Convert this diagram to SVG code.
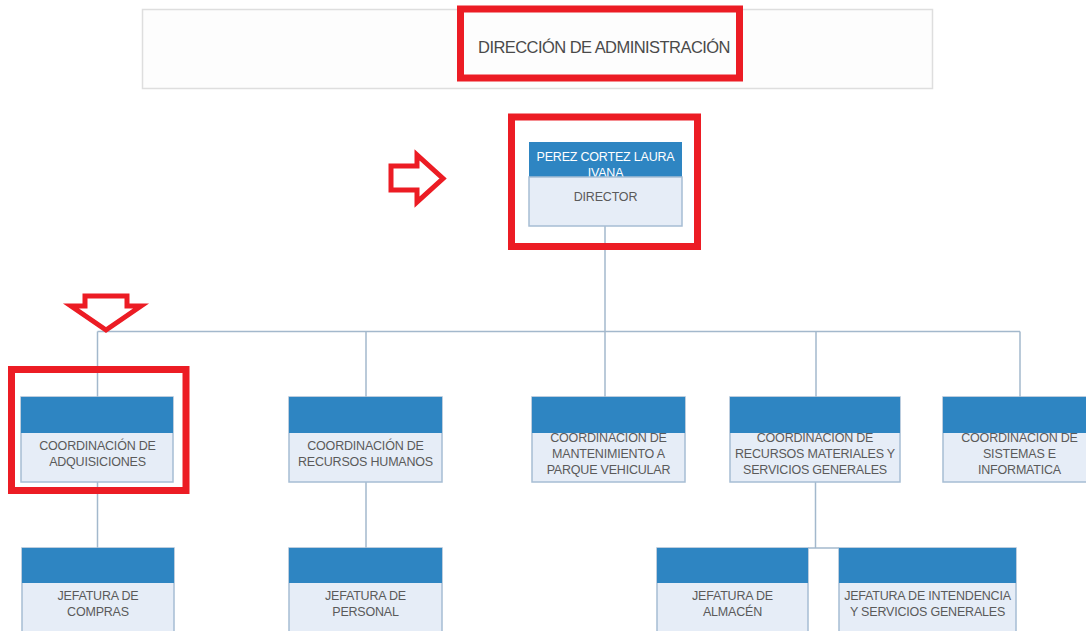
<svg xmlns="http://www.w3.org/2000/svg" width="1086" height="631" viewBox="0 0 1086 631">
<defs>
<style>
.hd{fill:#2e85c2;}
.bd{fill:#e6edf7;stroke:#a6bdd4;stroke-width:1.5;}
.t{font-family:"Liberation Sans",Arial,sans-serif;font-size:12.5px;fill:#5a5a5a;text-anchor:middle;letter-spacing:-0.2px;}
.tw{font-family:"Liberation Sans",Arial,sans-serif;font-size:12.5px;fill:#ffffff;text-anchor:middle;letter-spacing:-0.2px;}
.ln{stroke:#a3b8cc;stroke-width:1.5;fill:none;}
.red{fill:none;stroke:#ec1c24;stroke-width:7;}
.arr{fill:#ffffff;stroke:#ec1c24;stroke-width:5;stroke-linejoin:miter;}
</style>
</defs>
<rect width="1086" height="631" fill="#ffffff"/>

<g id="title">
<rect x="142.5" y="9.5" width="790" height="79" fill="#fdfdfd" stroke="#dedede" stroke-width="1.5"/>
<text x="604" y="53" font-family="'Liberation Sans',Arial,sans-serif" font-size="16.5" fill="#4a4a4a" text-anchor="middle" letter-spacing="-0.55">DIRECCIÓN DE ADMINISTRACIÓN</text>
</g>

<g id="connectors">
<line class="ln" x1="605" y1="226" x2="605" y2="397"/>
<line class="ln" x1="97.5" y1="331.5" x2="1020" y2="331.5"/>
<line class="ln" x1="97.5" y1="331.5" x2="97.5" y2="397"/>
<line class="ln" x1="366" y1="331.5" x2="366" y2="397"/>
<line class="ln" x1="816" y1="331.5" x2="816" y2="397"/>
<line class="ln" x1="1020" y1="331.5" x2="1020" y2="397"/>
<line class="ln" x1="97.5" y1="482" x2="97.5" y2="548"/>
<line class="ln" x1="366" y1="482" x2="366" y2="548"/>
<line class="ln" x1="815.5" y1="482" x2="815.5" y2="548"/>
<line class="ln" x1="808" y1="548" x2="839" y2="548"/>
</g>

<g id="director">
<rect class="hd" x="529" y="142" width="153" height="36"/>
<text class="tw" x="605.5" y="160.5">PEREZ CORTEZ LAURA</text>
<text class="tw" x="605.5" y="176.5">IVANA</text>
<rect class="bd" x="529" y="177" width="153" height="49"/>
<text class="t" x="605.5" y="201">DIRECTOR</text>
</g>

<g id="coord-adquisiciones">
<rect class="bd" x="21" y="397" width="152" height="85"/>
<text class="t" x="97.5" y="449.5">COORDINACIÓN DE</text>
<text class="t" x="97.5" y="465.5">ADQUISICIONES</text>
<rect class="hd" x="21" y="397" width="152" height="36"/>
</g>

<g id="coord-rh">
<rect class="bd" x="289" y="397" width="153" height="85"/>
<text class="t" x="365.5" y="449.5">COORDINACIÓN DE</text>
<text class="t" x="365.5" y="465.5">RECURSOS HUMANOS</text>
<rect class="hd" x="289" y="397" width="153" height="36"/>
</g>

<g id="coord-mantenimiento">
<rect class="bd" x="532" y="397" width="153" height="85"/>
<text class="t" x="608.5" y="442">COORDINACIÓN DE</text>
<text class="t" x="608.5" y="458">MANTENIMIENTO A</text>
<text class="t" x="608.5" y="474">PARQUE VEHICULAR</text>
<rect class="hd" x="532" y="397" width="153" height="36"/>
</g>

<g id="coord-recursos-materiales">
<rect class="bd" x="730" y="397" width="170" height="85"/>
<text class="t" x="815" y="442">COORDINACIÓN DE</text>
<text class="t" x="815" y="458">RECURSOS MATERIALES Y</text>
<text class="t" x="815" y="474">SERVICIOS GENERALES</text>
<rect class="hd" x="730" y="397" width="170" height="36"/>
</g>

<g id="coord-sistemas">
<rect class="bd" x="943" y="397" width="153" height="85"/>
<text class="t" x="1019.5" y="442">COORDINACIÓN DE</text>
<text class="t" x="1019.5" y="458">SISTEMAS E</text>
<text class="t" x="1019.5" y="474">INFORMATICA</text>
<rect class="hd" x="943" y="397" width="153" height="36"/>
</g>

<g id="jef-compras">
<rect class="bd" x="22" y="548" width="152" height="95"/>
<rect class="hd" x="22" y="548" width="152" height="35"/>
<text class="t" x="98" y="600">JEFATURA DE</text>
<text class="t" x="98" y="615.5">COMPRAS</text>
</g>

<g id="jef-personal">
<rect class="bd" x="289" y="548" width="153" height="95"/>
<rect class="hd" x="289" y="548" width="153" height="35"/>
<text class="t" x="365.5" y="600">JEFATURA DE</text>
<text class="t" x="365.5" y="615.5">PERSONAL</text>
</g>

<g id="jef-almacen">
<rect class="bd" x="657" y="548" width="151" height="95"/>
<rect class="hd" x="657" y="548" width="151" height="35"/>
<text class="t" x="732.5" y="600">JEFATURA DE</text>
<text class="t" x="732.5" y="615.5">ALMACÉN</text>
</g>

<g id="jef-intendencia">
<rect class="bd" x="839" y="548" width="177" height="95"/>
<rect class="hd" x="839" y="548" width="177" height="35"/>
<text class="t" x="927.5" y="600">JEFATURA DE INTENDENCIA</text>
<text class="t" x="927.5" y="615.5">Y SERVICIOS GENERALES</text>
</g>

<g id="highlights">
<rect class="red" x="460.5" y="9" width="279" height="69"/>
<rect class="red" x="511.5" y="117" width="186" height="129.5"/>
<rect class="red" x="11.5" y="369.5" width="174.5" height="121"/>
<polygon class="arr" points="391,166 417,166 417,155 443,178.5 417,202 417,190 391,190"/>
<polygon class="arr" points="85,296 127,296 127,306 141,306 106,330 71,306 85,306"/>
</g>
</svg>
